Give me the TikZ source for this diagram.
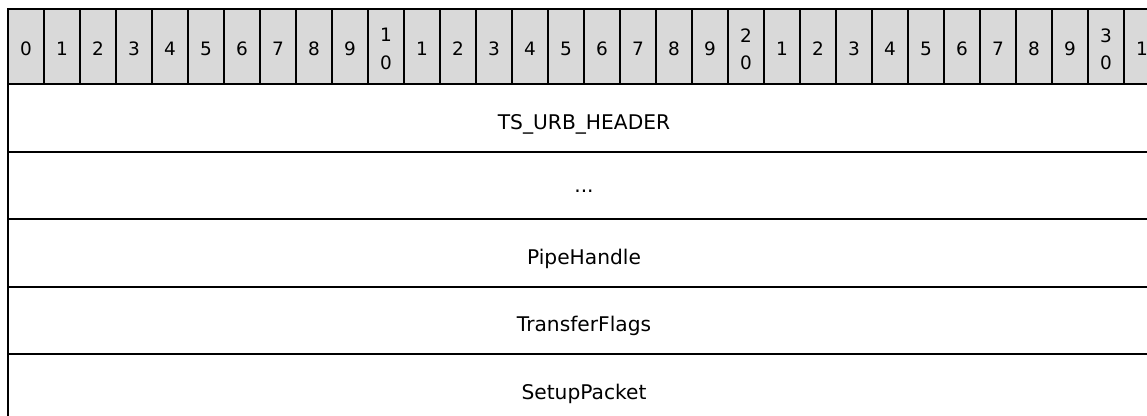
\documentclass[tikz,border=0pt]{standalone}
\usepackage{fontspec}
\setmainfont{DejaVu Sans}
\definecolor{rulergray}{HTML}{D9D9D9}
\tikzset{
  bitcell/.style={draw, line width=1.1pt, fill=rulergray},
  bitlabel/.style={font=\fontsize{10.5}{15.5}\selectfont, align=center, inner sep=0pt},
  fieldrow/.style={line width=1.1pt},
  fieldlabel/.style={font=\fontsize{11.5}{14}\selectfont, inner sep=0pt}
}
\begin{document}
\begin{tikzpicture}[x=0.02cm, y=-0.02cm]
    % visible part of the packet diagram
    \useasboundingbox (0,0) rectangle (1147,416);
    \clip (0,0) rectangle (1147,416);

    % Bit ruler (0 ... 31)
    \foreach \i in {0,...,31} {
        \pgfmathtruncatemacro\d{mod(\i,10)}
        \pgfmathtruncatemacro\t{\i/10}
        \ifnum\d=0 \ifnum\i>0 \def\lbl{\t\\0}\else\def\lbl{0}\fi\else\def\lbl{\d}\fi
        \draw[bitcell] (8+36*\i,9) rectangle (8+36*\i+36,84.3);
        \node[bitlabel] (bit\i) at (8+36*\i+18,49) {\lbl};
    }

    % Field rows
    \draw[fieldrow] (8,84.3) -- (8,430);
    \foreach \y in {151.7,219.1,286.6,354} {
        \draw[fieldrow] (8,\y) -- (1170,\y);
    }

    % Field names
    \node[fieldlabel] (urbheader) at (584,124) {TS\_URB\_HEADER};
    \node[fieldlabel] (more) at (584,191.5) {...};
    \node[fieldlabel] (pipehandle) at (584,259) {PipeHandle};
    \node[fieldlabel] (transferflags) at (584,326) {TransferFlags};
    \node[fieldlabel] (setuppacket) at (584,394) {SetupPacket};
\end{tikzpicture}
\end{document}
